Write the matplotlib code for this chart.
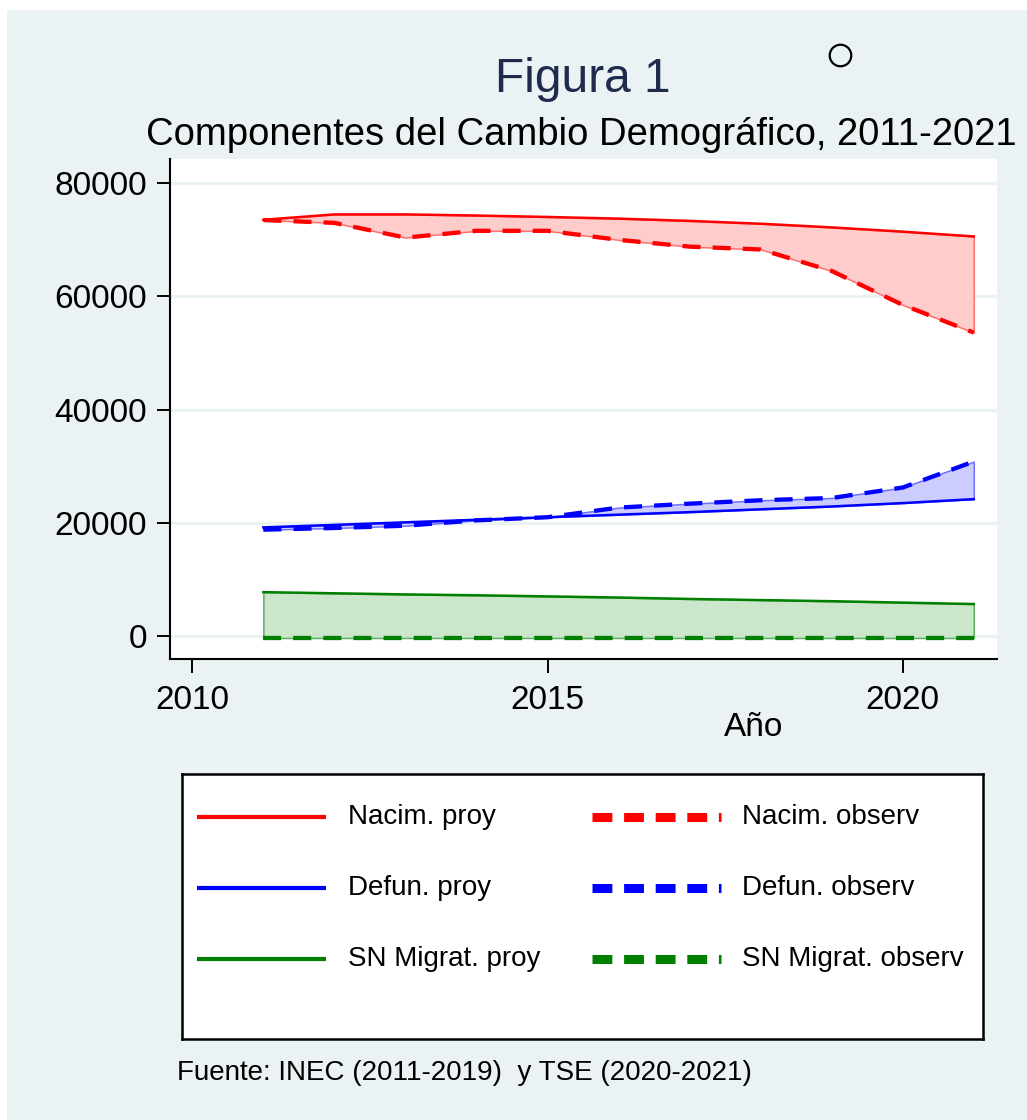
import numpy as np
import matplotlib

matplotlib.use("Agg")

import matplotlib.pyplot as plt
from matplotlib.patches import Rectangle
from matplotlib.lines import Line2D

plt.rcParams["font.family"] = ["Liberation Sans", "DejaVu Sans"]

# data
years = [2011, 2012, 2013, 2014, 2015, 2016, 2017, 2018, 2019, 2020, 2021]

nacim_proy = [73550, 74500, 74500, 74300, 74050, 73750, 73350, 72850, 72200, 71450, 70600]
nacim_obs = [73500, 73000, 70400, 71600, 71600, 70000, 68800, 68300, 64500, 58500, 53600]

defun_proy = [19150, 19600, 20050, 20500, 20950, 21400, 21850, 22350, 22850, 23450, 24150]
defun_obs = [18750, 19050, 19450, 20400, 20950, 22650, 23350, 23950, 24350, 26200, 30800]

migr_proy = [7700, 7500, 7300, 7150, 6950, 6750, 6500, 6300, 6100, 5850, 5600]
migr_obs = [-400, -400, -400, -400, -400, -400, -400, -400, -400, -400, -400]

series_names = ["Nacim.", "Defun.", "SN Migrat."]
line_colors = ["#FF0000", "#0000FF", "#008000"]
fill_colors = ["#FFCCCC", "#CCCCFF", "#CCE6CC"]
edge_colors = ["#FF7070", "#7070FF", "#5FAE5F"]

y_ticks = [0, 20000, 40000, 60000, 80000]
x_ticks = [2010, 2015, 2020]

BG = "#EAF2F3"
W, H = 1027, 1120


def fx(x):
    return x / W


def fy(y):
    return 1 - y / H


fig = plt.figure(figsize=(W / 100, H / 100), dpi=100)
fig.patch.set_facecolor("white")
fig.patches.append(
    Rectangle((fx(7), 0), 1 - fx(7), fy(10), transform=fig.transFigure,
              facecolor=BG, edgecolor="none", zorder=-10)
)

ax = fig.add_axes([fx(170), fy(659), fx(997) - fx(170), fy(159) - fy(659)])
ax.set_facecolor("white")

obs_sets = [nacim_obs, defun_obs, migr_obs]
proy_sets = [nacim_proy, defun_proy, migr_proy]

for proy, obs, lc, fc, ec in zip(proy_sets, obs_sets, line_colors, fill_colors, edge_colors):
    ax.fill_between(years, proy, obs, facecolor=fc, edgecolor=ec,
                    linewidth=1.1, zorder=2)
    ax.plot(years, obs, color=lc, linewidth=3.1, dashes=(4.2, 2.8),
            dash_capstyle="butt", zorder=3)
    ax.plot(years, proy, color=lc, linewidth=1.8, zorder=4)

ax.set_xlim(2009.686, 2021.327)
ax.set_ylim(-4120, 84297)

ax.set_yticks(y_ticks)
ax.set_yticklabels([str(v) for v in y_ticks])
ax.set_xticks(x_ticks)
ax.set_xticklabels([str(v) for v in x_ticks])

ax.grid(axis="y", color=BG, linewidth=2.3, zorder=1)
ax.grid(axis="x", visible=False)
ax.set_axisbelow(True)

for side in ["top", "right"]:
    ax.spines[side].set_visible(False)
for side in ["left", "bottom"]:
    ax.spines[side].set_linewidth(1.5)
    ax.spines[side].set_color("black")

ax.tick_params(axis="y", length=9.5, width=1.4, pad=7, labelsize=24)
ax.tick_params(axis="x", length=10, width=1.4, pad=9, labelsize=24)

fig.text(fx(754), fy(727), "Año", ha="center", va="center", fontsize=24)

# titles
fig.text(fx(583), fy(92), "Figura 1", ha="center", va="baseline",
         fontsize=34.5, color="#1E2B4D")
fig.text(fx(581), fy(135), "Componentes del Cambio Demográfico, 2011-2021",
         ha="center", va="center", fontsize=27.5, color="black")

# little circle near the title
fig.add_artist(Line2D([fx(840)], [fy(55)], marker="o", markersize=15.5,
                      markerfacecolor="none", markeredgecolor="black",
                      markeredgewidth=1.6, transform=fig.transFigure))

# legend box drawn by hand
lax = fig.add_axes([fx(182), fy(1039), fx(983) - fx(182), fy(774) - fy(1039)])
lax.set_xlim(0, 801)
lax.set_ylim(265, 0)
lax.set_xticks([])
lax.set_yticks([])
lax.set_facecolor("white")
for sp in lax.spines.values():
    sp.set_linewidth(1.8)
    sp.set_color("black")

row_y = [43, 114, 185]
for name, lc, ry in zip(series_names, line_colors, row_y):
    lax.plot([15, 144], [ry, ry], color=lc, linewidth=3.0, solid_capstyle="butt")
    lax.text(166, ry, name + " proy", ha="left", va="center", fontsize=20)
    lax.plot([410, 539], [ry, ry], color=lc, linewidth=6.5, dashes=(2.2, 1.3),
             dash_capstyle="butt")
    lax.text(560, ry, name + " observ", ha="left", va="center", fontsize=20)

fig.text(fx(177), fy(1073), "Fuente: INEC (2011-2019)  y TSE (2020-2021)",
         ha="left", va="center", fontsize=20)

fig.savefig("out.png", dpi=100, facecolor=fig.get_facecolor())
